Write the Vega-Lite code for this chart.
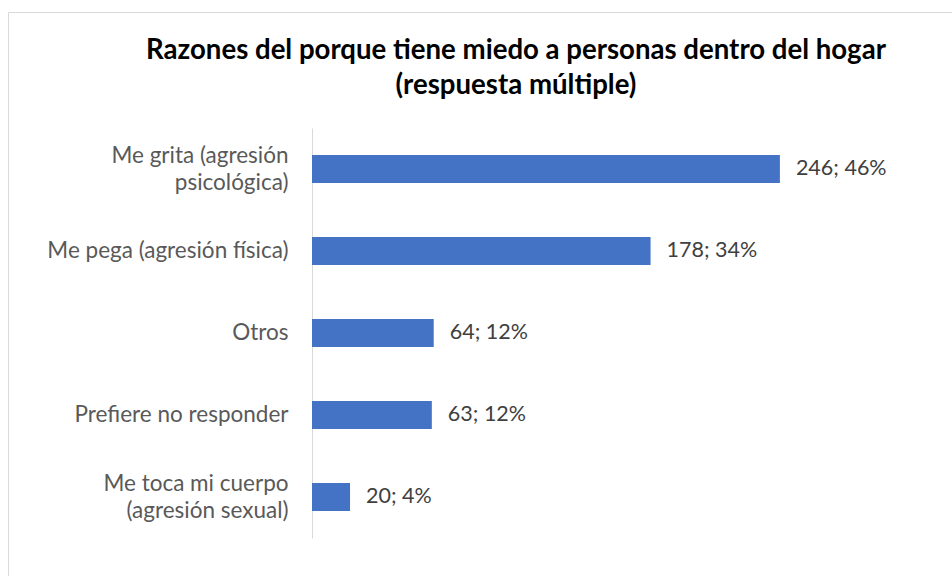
{
  "$schema": "https://vega.github.io/schema/vega-lite/v6.json",
  "autosize": "none",
  "width": 944,
  "height": 564,
  "padding": {"left": 8, "top": 12, "right": 0, "bottom": 0},
  "background": "white",
  "config": {
    "view": {"stroke": "#d9d9d9", "strokeWidth": 1},
    "font": "Lato"
  },
  "title": {
    "text": ["Razones del porque tiene miedo a personas dentro del hogar", "(respuesta múltiple)"],
    "font": "Lato",
    "fontSize": 27.6,
    "fontWeight": "bold",
    "color": "#000000",
    "anchor": "middle",
    "frame": "group",
    "baseline": "alphabetic",
    "lineHeight": 35,
    "offset": 0,
    "dy": 110,
    "dx": 36
  },
  "data": {
    "values": [
      {"razon": "Me grita (agresión|psicológica)", "n": 246, "label": "246; 46%"},
      {"razon": "Me pega (agresión física)", "n": 178, "label": "178; 34%"},
      {"razon": "Otros", "n": 64, "label": "64; 12%"},
      {"razon": "Prefiere no responder", "n": 63, "label": "63; 12%"},
      {"razon": "Me toca mi cuerpo|(agresión sexual)", "n": 20, "label": "20; 4%"}
    ]
  },
  "encoding": {
    "y": {
      "field": "razon",
      "type": "nominal",
      "sort": null,
      "scale": {"range": [116, 526], "paddingInner": 0.66, "paddingOuter": 0.33},
      "axis": {
        "orient": "left",
        "offset": -304,
        "title": null,
        "ticks": false,
        "grid": false,
        "domainColor": "#d9d9d9",
        "domainWidth": 1,
        "labelPadding": 24,
        "labelFont": "Lato",
        "labelFontSize": 22.5,
        "labelColor": "#595959",
        "labelLimit": 0,
        "labelLineHeight": 27,
        "labelOffset": {"condition": {"test": "indexof(datum.value, '|') >= 0", "value": -13}, "value": 0},
        "labelExpr": "split(datum.value, '|')"
      }
    },
    "x": {
      "field": "n",
      "type": "quantitative",
      "scale": {"domain": [0, 300], "range": [304, 874.6], "nice": false, "zero": true},
      "axis": null
    }
  },
  "layer": [
    {"mark": {"type": "bar", "color": "#4472C4"}},
    {
      "mark": {"type": "text", "align": "left", "baseline": "middle", "dx": 16, "font": "Lato", "fontSize": 21.5, "color": "#404040"},
      "encoding": {"text": {"field": "label"}}
    }
  ]
}
